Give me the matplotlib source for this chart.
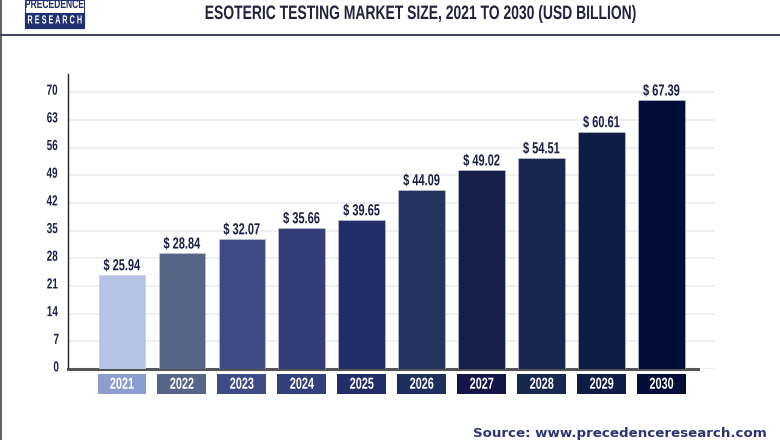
import matplotlib
matplotlib.use("Agg")
import matplotlib.pyplot as plt
import matplotlib.patheffects as pe
from matplotlib.patches import Rectangle
from matplotlib.transforms import Affine2D, ScaledTranslation

years = ["2021", "2022", "2023", "2024", "2025", "2026", "2027", "2028", "2029", "2030"]
# the printed labels and the drawn bar heights do not agree in the original
value_labels = ["$ 25.94", "$ 28.84", "$ 32.07", "$ 35.66", "$ 39.65",
                "$ 44.09", "$ 49.02", "$ 54.51", "$ 60.61", "$ 67.39"]
bar_heights = [23.8, 29.3, 32.9, 35.7, 37.7, 45.3, 50.3, 53.4, 60.0, 68.0]
yticks = [0, 7, 14, 21, 28, 35, 42, 49, 56, 63, 70]
bar_colors = ["#b5c3e6", "#566488", "#3f4b86", "#333d7a", "#222c68",
              "#25345f", "#14204a", "#17274d", "#0f1c45", "#020d38"]
box_colors = ["#8c9dcf", "#566488", "#3f4b86", "#343f7e", "#222c68",
              "#1f2f5c", "#14164a", "#17274d", "#0f1c45", "#020d38"]

W, H = 780, 440
NAVY = "#1c1f45"
FONT = ["Liberation Sans", "DejaVu Sans"]


class Squeeze(pe.AbstractPathEffect):
    # no condensed font here, so narrow the glyphs around the text centre
    def __init__(self, sx):
        super().__init__()
        self.sx = sx

    def draw_path(self, renderer, gc, tpath, affine, rgbFace=None):
        box = tpath.get_extents(affine)
        cx = (box.x0 + box.x1) / 2
        squeezed = affine + Affine2D().translate(-cx, 0).scale(self.sx, 1).translate(cx, 0)
        renderer.draw_path(gc, tpath, squeezed, rgbFace)


fig = plt.figure(figsize=(W / 100, H / 100), dpi=100)
fig.patch.set_facecolor("white")

# axes placed in pixels: x 68-715, y 74-369
ax = fig.add_axes([68 / W, 1 - 369 / H, (715 - 68) / W, (369 - 74) / H])
x = list(range(len(years)))
ax.set_xlim(-0.90, 9.89)
ax.set_ylim(0, 74.6)

ax.yaxis.grid(True, color="#eeeeee", lw=1.3)
ax.set_axisbelow(True)
ax.bar(x, bar_heights, width=0.78, color=bar_colors, edgecolor="#c9cbd6", lw=0.4, zorder=3)

for i, h in enumerate(bar_heights):
    ax.text(i, h + 2.3, value_labels[i], ha="center", va="center", fontsize=11.5,
            family=FONT, fontweight="bold", color=NAVY, zorder=4,
            path_effects=[Squeeze(0.69)])

# year labels in coloured boxes under the axis
ax.bar(x, [-5.05] * len(x), bottom=-1.25, width=0.815, color=box_colors, clip_on=False)
for i, y in enumerate(years):
    ax.text(i, -3.85, y, ha="center", va="center", fontsize=11.5, family=FONT,
            fontweight="bold", color="white", path_effects=[Squeeze(0.68)])

ax.set_xticks([])
ax.set_yticks(yticks)
ax.set_yticklabels([str(t) for t in yticks], family=FONT, fontweight="bold",
                   fontsize=10.5, color=NAVY)
ax.tick_params(axis="y", length=0, pad=5.5)
# tick labels sit a little above their gridlines
lift = ScaledTranslation(0, 3 / 100, fig.dpi_scale_trans)
for lab in ax.get_yticklabels():
    lab.set_transform(lab.get_transform() + lift)
    lab.set_path_effects([Squeeze(0.68)])

for s in ["top", "right"]:
    ax.spines[s].set_visible(False)
ax.spines["left"].set_color("#222222")
ax.spines["left"].set_linewidth(1.0)
ax.spines["bottom"].set_color("#555555")
ax.spines["bottom"].set_linewidth(2.2)
ax.spines["bottom"].set_bounds(-0.90, 9.6)

# header
fig.add_artist(plt.Line2D([0, 1], [1 - 35 / H] * 2, color=NAVY, lw=1.2))
fig.add_artist(plt.Line2D([0.5 / W] * 2, [0, 1], color="#444444", lw=1.2))
fig.text(421 / W, 1 - 14.5 / H, "ESOTERIC TESTING MARKET SIZE, 2021 TO 2030 (USD BILLION)",
         ha="center", va="center", fontsize=14, family=FONT, fontweight="bold",
         color="#23233f", path_effects=[Squeeze(0.715)])

# logo
fig.add_artist(Rectangle((25 / W, 1 - 28 / H), 59 / W, 28 / H, transform=fig.transFigure,
                         facecolor="white", edgecolor="#2a3a7a", lw=0.8))
fig.add_artist(Rectangle((25 / W, 1 - 28 / H), 59 / W, 15 / H, transform=fig.transFigure,
                         facecolor="#1f2f70", edgecolor="#1f2f70", lw=0.8))
fig.text(54.5 / W, 1 - 5 / H, "PRECEDENCE", ha="center", va="center", fontsize=9,
         family=FONT, fontweight="bold", color="#1f2f70", path_effects=[Squeeze(0.68)])
fig.text(54.5 / W, 1 - 20.5 / H, "R E S E A R C H", ha="center", va="center", fontsize=8.5,
         family=FONT, fontweight="bold", color="white", path_effects=[Squeeze(0.62)])

# source line, the original runs slightly off the bottom edge
fig.text(767 / W, 1 - 436.5 / H, "Source: www.precedenceresearch.com", ha="right",
         va="baseline", fontsize=9.6, family="DejaVu Sans", fontweight="bold",
         color="#2f3470")

fig.savefig("out.png", dpi=100)
